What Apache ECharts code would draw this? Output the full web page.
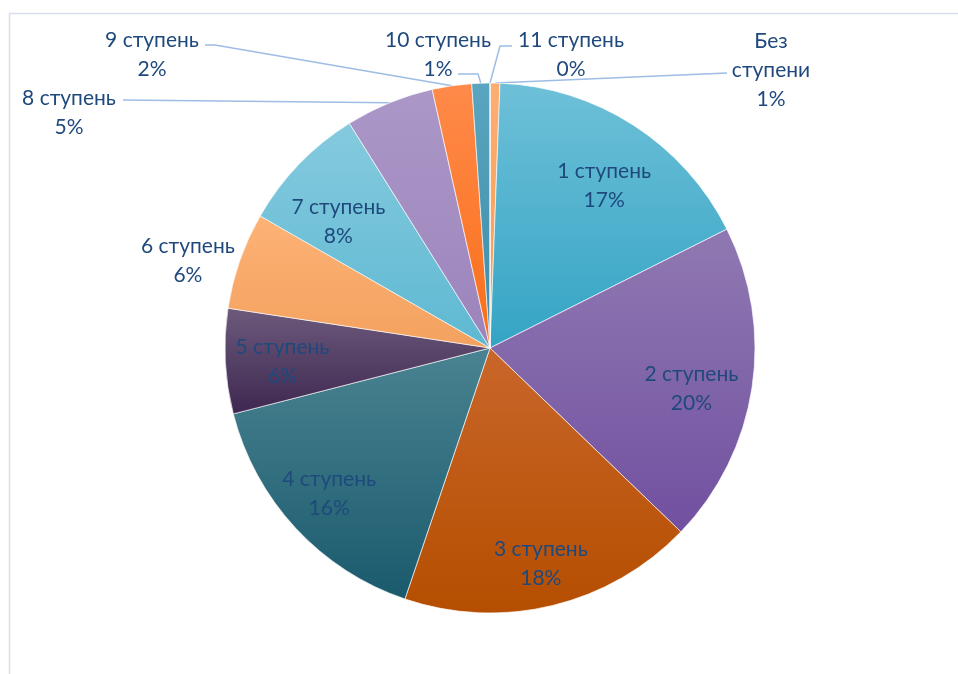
<!DOCTYPE html>
<html>
<head>
<meta charset="utf-8">
<script src="https://cdn.jsdelivr.net/npm/echarts@6/dist/echarts.min.js"></script>
<style>
html,body{margin:0;padding:0;background:#fff;}
#chart{width:958px;height:674px;}
</style>
</head>
<body>
<div id="chart"></div>
<script>
// ---- data ----
const categories = ['Без ступени', '1 ступень', '2 ступень', '3 ступень', '4 ступень', '5 ступень',
  '6 ступень', '7 ступень', '8 ступень', '9 ступень', '10 ступень', '11 ступень'];
const values = [0.6, 17.0, 19.6, 18.0, 15.8, 6.4, 5.9, 7.8, 5.4, 2.4, 1.1, 0];

// ---- styles ----
const gradTop = ['#FCAE72', '#6EC0D8', '#9079B2', '#C9662A', '#4A8391', '#6C5A7C',
  '#FDB276', '#85CADE', '#AB97C8', '#FF8A4A', '#5AA6C0', '#B0A0C8'];
const gradBottom = ['#F59B52', '#34A4C4', '#7150A0', '#B54E00', '#1A5A6D', '#3E2750',
  '#F3A15E', '#5EB9D2', '#9C84BB', '#F96E18', '#3C8BA8', '#9C84BB'];

const CX = 490, CY = 348, R = 265;
const TEXT_COLOR = '#1F497D';
const FONT = 'Lato';

// inside labels: radial distance ratio and angular nudge (degrees)
const insideRatio = {1: 0.75, 2: 0.775, 3: 0.835, 4: 0.82, 5: 0.785, 7: 0.745};
const insideTurn = {1: 2.3, 2: 2.7, 3: 0.4, 4: 0.6, 5: -1.0, 7: -4.1};
// outside labels with custom placement: label centre and leader-line points relative to it
const outsidePlace = {
  0:  {x: 771, y: 70,  pts: [[-44, 3]]},
  8:  {x: 69,  y: 113, pts: [[54, -13]]},
  9:  {x: 152, y: 55,  pts: [[63, -10], [53, -10]]},
  10: {x: 438, y: 55,  pts: [[40, 19], [20, 19]]},
  11: {x: 571, y: 55,  pts: [[-71, -9], [-59, -9]]}
};

const dataItems = categories.map(function (name, i) {
  const item = {
    name: name,
    value: values[i],
    itemStyle: {
      color: {
        type: 'linear', x: 0, y: 0, x2: 0, y2: 1,
        colorStops: [{offset: 0, color: gradTop[i]}, {offset: 1, color: gradBottom[i]}]
      }
    }
  };
  if (insideRatio[i] != null) {
    item.label = {position: 'inside'};
    item.labelLine = {show: false};
  } else if (i === 6) {
    item.label = {position: 'outside'};
    item.labelLine = {show: false, length: 0, length2: 0};
  } else {
    item.label = {position: 'outside'};
    item.labelLine = {show: true, length: 10, length2: 10};
  }
  return item;
});

const chart = echarts.init(document.getElementById('chart'), null, {renderer: 'canvas'});
chart.setOption({
  animation: false,
  backgroundColor: '#ffffff',
  graphic: [{
    type: 'rect',
    shape: {x: 9.5, y: 13.5, width: 980, height: 700},
    style: {fill: 'none', stroke: '#D5E0EF', lineWidth: 1.5},
    silent: true
  }],
  series: [{
    type: 'pie',
    center: [CX, CY],
    radius: [0, R],
    startAngle: 90,
    clockwise: true,
    percentPrecision: 0,
    avoidLabelOverlap: false,
    minShowLabelAngle: 0,
    itemStyle: {borderColor: 'rgba(255,255,255,0.8)', borderWidth: 0.8},
    emphasis: {disabled: true},
    label: {
      show: true,
      formatter: function (p) {
        let name = p.name;
        if (!/\d/.test(name)) name = name.replace(' ', '\n');
        const lines = name.split('\n');
        lines.push(p.percent + '%');
        return lines.map(function (l) { return '{c|' + l + '}'; }).join('\n');
      },
      rich: {
        c: {align: 'center', fontFamily: FONT, fontSize: 21, lineHeight: 29, color: TEXT_COLOR}
      },
      color: TEXT_COLOR,
      fontFamily: FONT,
      fontSize: 21,
      lineHeight: 29
    },
    labelLine: {
      lineStyle: {color: '#9DBDE4', width: 1.5}
    },
    labelLayout: function (params) {
      const i = params.dataIndex;
      const lr = params.labelRect;
      if (insideRatio[i] != null) {
        const lx = lr.x + lr.width / 2, ly = lr.y + lr.height / 2;
        const a = Math.atan2(lx - CX, -(ly - CY)) + (insideTurn[i] || 0) * Math.PI / 180;
        const r = insideRatio[i] * R;
        return {x: CX + r * Math.sin(a), y: CY - r * Math.cos(a), align: 'center', verticalAlign: 'middle'};
      }
      const place = outsidePlace[i];
      if (place) {
        const res = {x: place.x, y: place.y, align: 'center', verticalAlign: 'middle'};
        if (params.labelLinePoints && params.labelLinePoints.length) {
          const start = params.labelLinePoints[0];
          const pts = [[start[0], start[1]]];
          place.pts.forEach(function (o) { pts.push([place.x + o[0], place.y + o[1]]); });
          res.labelLinePoints = pts;
        }
        return res;
      }
      return {};
    },
    data: dataItems
  }]
});
</script>
</body>
</html>
